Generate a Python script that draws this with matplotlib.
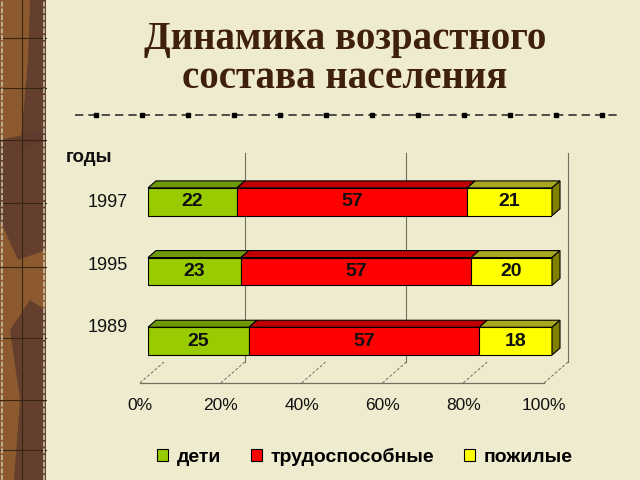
import numpy as np
import matplotlib.pyplot as plt
from matplotlib.patches import Polygon, Rectangle, Patch
from matplotlib.lines import Line2D

plt.rcParams['font.family'] = ['Liberation Sans', 'DejaVu Sans']

# data (percent of population)
years = ['1989', '1995', '1997']
children = [25, 23, 22]
working = [57, 57, 57]
elderly = [18, 20, 21]
groups = ['дети', 'трудоспособные', 'пожилые']
ticks = [0, 20, 40, 60, 80, 100]
tick_labels = ['0%', '20%', '40%', '60%', '80%', '100%']
wall_grid = [20, 60, 100]

front_colors = ['#99CC00', '#FF0000', '#FFFF00']
top_colors = ['#6E9A0A', '#C00000', '#A8A820']
side_color = '#808000'
BG = '#EFEBCE'

fig = plt.figure(figsize=(6.4, 4.8), dpi=100)
fig.patch.set_facecolor(BG)

# left decorative strip
fig.patches.append(Rectangle((0, 0), 46 / 640, 1, transform=fig.transFigure,
                             facecolor='#8C5A2E', edgecolor='none', zorder=0))
blotches = [
    [(30, 0), (46, 0), (46, 140), (20, 150), (28, 60)],
    [(0, 140), (46, 130), (46, 250), (18, 260), (0, 220)],
    [(10, 330), (30, 300), (46, 310), (46, 480), (14, 480), (20, 400)],
]
for b in blotches:
    pts = [(x / 640, 1 - y / 480) for x, y in b]
    fig.patches.append(Polygon(pts, closed=True, transform=fig.transFigure,
                               facecolor='#5E3B2E', edgecolor='none', alpha=0.85, zorder=0))
for xv in [22]:
    fig.lines.append(Line2D([xv / 640] * 2, [0, 1], transform=fig.transFigure,
                            color='#3A2412', lw=0.8))
for yv in [38, 88, 140, 203, 267, 338, 400, 450]:
    fig.lines.append(Line2D([0, 46 / 640], [1 - yv / 480] * 2, transform=fig.transFigure,
                            color='#3A2412', lw=0.8))
for xv in [2, 44]:
    fig.lines.append(Line2D([xv / 640] * 2, [0, 1], transform=fig.transFigure,
                            color='#C8C0A8', lw=1.2, ls=(0, (3, 1))))

# title
title_color = '#3E200C'
fig.text(345 / 640, 1 - 40 / 480, 'Динамика возрастного', ha='center', va='center',
         fontsize=28, fontweight='bold', family='Liberation Serif', color=title_color)
fig.text(345 / 640, 1 - 78 / 480, 'состава населения', ha='center', va='center',
         fontsize=28, fontweight='bold', family='Liberation Serif', color=title_color)

# dashed separator with square marks
fig.lines.append(Line2D([75 / 640, 618 / 640], [1 - 115 / 480] * 2, transform=fig.transFigure,
                        color='#333333', lw=1.2, ls=(0, (5, 3))))
sq = np.arange(96, 610, 46)
fig.lines.append(Line2D(sq / 640, np.full(len(sq), 1 - 115 / 480), transform=fig.transFigure,
                        ls='none', marker='s', markersize=3.5, color='black'))

# chart axes = front plane of the bars
ax = fig.add_axes([148 / 640, 1 - 376 / 480, 404 / 640, 209 / 480])
ax.set_xlim(0, 100)
ax.set_ylim(-0.5, 2.5)
ax.axis('off')
ax.patch.set_alpha(0)

bbox = ax.get_window_extent()
sx = 100 / bbox.width   # data units per pixel
sy = 3 / bbox.height

y0, y1 = ax.get_ylim()
grid_c = '#707060'

# back wall grid lines
for g in wall_grid:
    ax.plot([g + 16 * sx] * 2, [y0 + 14 * sy, y1 + 14 * sy], color=grid_c, lw=0.8,
            clip_on=False, zorder=1)
# floor lines
for t in ticks:
    ax.plot([t - 8 * sx, t + 16 * sx], [y0 - 7 * sy, y0 + 14 * sy], color=grid_c, lw=0.7,
            ls=(0, (3, 2)), clip_on=False, zorder=1)
# front axis
ax.plot([-8 * sx, 100 - 8 * sx], [y0 - 7 * sy] * 2, color=grid_c, lw=0.9,
        clip_on=False, zorder=1)
for t, lab in zip(ticks, tick_labels):
    ax.text(t - 8 * sx, y0 - 29 * sy, lab, ha='center', va='center', fontsize=12.5,
            color='#111111', clip_on=False)

# 3D stacked bars
h = 0.4
series = [children, working, elderly]
for i, yr in enumerate(years):
    left = 0
    for k, vals in enumerate(series):
        v = vals[i]
        ax.barh(i, v, left=left, height=h, color=front_colors[k], edgecolor='black',
                lw=0.8, zorder=3)
        top = [(left, i + h / 2), (left + v, i + h / 2),
               (left + v + 8 * sx, i + h / 2 + 7 * sy), (left + 8 * sx, i + h / 2 + 7 * sy)]
        ax.add_patch(Polygon(top, closed=True, facecolor=top_colors[k], edgecolor='black',
                             lw=0.8, zorder=3, clip_on=False))
        ax.text(left + v / 2, i, str(v), ha='center', va='center', fontsize=14,
                fontweight='bold', color='#111111', zorder=4)
        left += v
    side = [(left, i - h / 2), (left, i + h / 2),
            (left + 8 * sx, i + h / 2 + 7 * sy), (left + 8 * sx, i - h / 2 + 7 * sy)]
    ax.add_patch(Polygon(side, closed=True, facecolor=side_color, edgecolor='black',
                         lw=0.8, zorder=3, clip_on=False))
    ax.text(-20 * sx, i * 0.9 + 0.19, yr, ha='right', va='center', fontsize=13,
            color='#111111', clip_on=False)

fig.text(89 / 640, 1 - 157 / 480, 'годы', ha='center', va='center', fontsize=13.5,
         fontweight='bold', color='#111111')

handles = [Patch(facecolor=c, edgecolor='black', lw=0.8) for c in front_colors]
fig.legend(handles, groups, loc='center', bbox_to_anchor=(0.570, 0.048), ncol=3,
           frameon=False, handlelength=0.55, handleheight=0.55, handletextpad=0.45,
           columnspacing=1.55, prop={'size': 14, 'weight': 'bold'})

fig.savefig('out.png', dpi=100, facecolor=BG)
